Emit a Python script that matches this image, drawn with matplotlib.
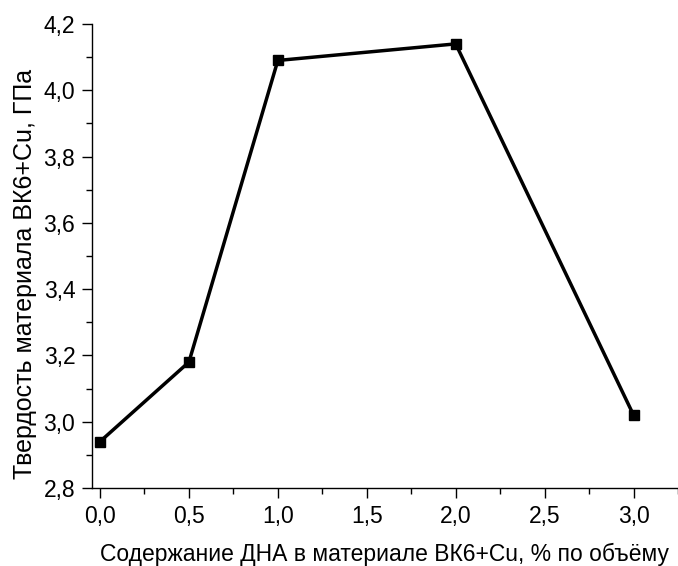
import numpy as np
import matplotlib as mpl
mpl.use('Agg')
import matplotlib.pyplot as plt
from matplotlib.ticker import MultipleLocator, FuncFormatter

# data
dna = [0.0, 0.5, 1.0, 2.0, 3.0]
hardness = [2.94, 3.18, 4.09, 4.14, 3.02]

plt.rcParams['font.family'] = ['Liberation Sans', 'DejaVu Sans']

fig = plt.figure(figsize=(6.78, 5.66), dpi=100)
ax = fig.add_axes([92/678, 1 - 488/566, 1 - 92/678, (488 - 24)/566])

ax.plot(dna, hardness, color='black', lw=2.5, marker='s', ms=7,
        markerfacecolor='black', markeredgecolor='black', clip_on=False)

ax.set_xlim(-0.045, 3.25)
ax.set_ylim(2.8, 4.2)
ax.spines['top'].set_visible(False)
ax.spines['right'].set_visible(False)
for s in ('left', 'bottom'):
    ax.spines[s].set_linewidth(1.0)

ax.xaxis.set_major_locator(MultipleLocator(0.5))
ax.xaxis.set_minor_locator(MultipleLocator(0.25))
ax.yaxis.set_major_locator(MultipleLocator(0.2))
ax.yaxis.set_minor_locator(MultipleLocator(0.1))
comma = FuncFormatter(lambda v, p: ('%.1f' % v).replace('.', ','))
ax.xaxis.set_major_formatter(comma)
ax.yaxis.set_major_formatter(comma)
ax.tick_params(which='major', direction='out', length=7, width=1, labelsize=16.5, pad=5)
ax.tick_params(which='minor', direction='out', length=4, width=1)

ax.set_xlabel('Содержание ДНА в материале ВК6+Cu, % по объёму', fontsize=16.5, labelpad=11)
ax.set_ylabel('Твердость материала ВК6+Cu, ГПа', fontsize=18)
ax.yaxis.set_label_coords(-0.094, 0.461)

fig.savefig('out.png', dpi=100)
